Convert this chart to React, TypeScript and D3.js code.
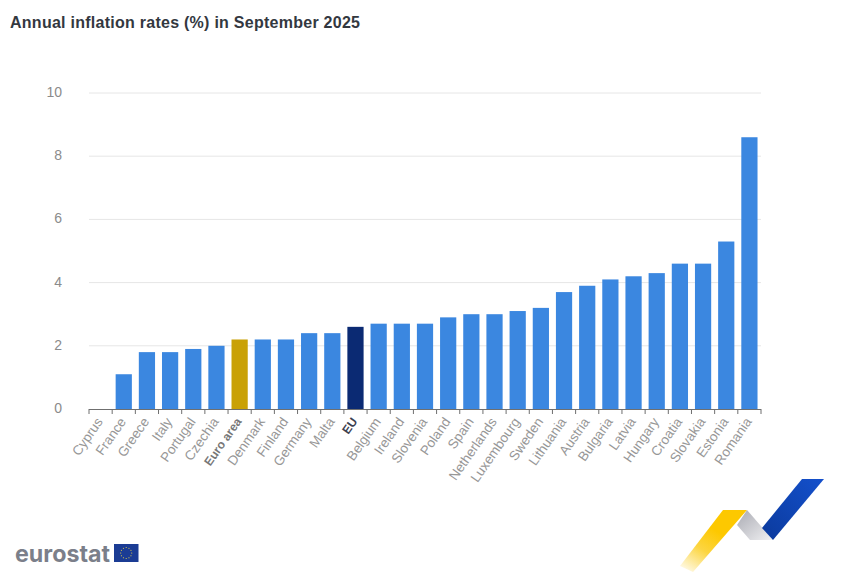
import React from "react";
import * as d3 from "d3";

const categories = ["Cyprus","France","Greece","Italy","Portugal","Czechia","Euro area","Denmark","Finland","Germany","Malta","EU","Belgium","Ireland","Slovenia","Poland","Spain","Netherlands","Luxembourg","Sweden","Lithuania","Austria","Bulgaria","Latvia","Hungary","Croatia","Slovakia","Estonia","Romania"];
const values = [0,1.1,1.8,1.8,1.9,2.0,2.2,2.2,2.2,2.4,2.4,2.6,2.7,2.7,2.7,2.9,3.0,3.0,3.1,3.2,3.7,3.9,4.1,4.2,4.3,4.6,4.6,5.3,8.6];
const yTicks = [0,2,4,6,8,10];
const highlight: Record<string,string> = { "Euro area": "#c9a106", "EU": "#0b2a73" };
const barColor = "#3b87e0";
const FONT = "'Liberation Sans', Arial, sans-serif";

export default function App() {
  const x = d3.scaleBand<string>().domain(categories).range([89, 761]).paddingInner(0.3).paddingOuter(0.15);
  const y = d3.scaleLinear().domain([0, 10]).range([409, 93]);
  const ticks = d3.range(categories.length + 1).map(i => 89 + (672 / categories.length) * i);
  const stars = d3.range(12).map(i => (i / 12) * 2 * Math.PI);
  return (
    <svg width={849} height={587} style={{ position: "fixed", left: 0, top: 0, background: "#fff" }} fontFamily={FONT}>
      <defs>
        <linearGradient id="yel" x1="0" y1="1" x2="0.7" y2="0">
          <stop offset="0" stopColor="#ffffff" />
          <stop offset="0.4" stopColor="#fcd540" />
          <stop offset="0.7" stopColor="#fdc800" />
          <stop offset="1" stopColor="#fdc800" />
        </linearGradient>
        <linearGradient id="gry" x1="0" y1="0" x2="1" y2="1">
          <stop offset="0" stopColor="#a9aab2" />
          <stop offset="1" stopColor="#f1f1f3" />
        </linearGradient>
        <linearGradient id="blu" x1="0" y1="1" x2="1" y2="0">
          <stop offset="0" stopColor="#0b3a9c" />
          <stop offset="1" stopColor="#1450cc" />
        </linearGradient>
      </defs>
      <text x={10} y={28} fontSize={16} fontWeight={700} fill="#33383f" textLength={350} lengthAdjust="spacing">Annual inflation rates (%) in September 2025</text>
      {yTicks.map(t => (
        <g key={t}>
          {t > 0 && <line x1={89} x2={761} y1={y(t)} y2={y(t)} stroke="#e6e6e6" />}
          <text x={62} y={y(t) + 4} fontSize={14} textAnchor="end" fill="#8b8b8b">{t}</text>
        </g>
      ))}
      {categories.map((c, i) => (
        <rect key={c} x={x(c)} y={y(values[i])} width={x.bandwidth()} height={y(0) - y(values[i])} fill={highlight[c] ?? barColor} />
      ))}
      <line x1={89} x2={761} y1={409.5} y2={409.5} stroke="#6f6f6f" />
      {ticks.map((t, i) => <line key={i} x1={t} x2={t} y1={409} y2={414} stroke="#6f6f6f" />)}
      {categories.map(c => {
        const px = (x(c) as number) + x.bandwidth() / 2 - 1;
        const bold = c in highlight;
        return (
          <text key={c} transform={`translate(${px},419) rotate(-55)`} textAnchor="end" dy="0.35em"
            fontSize={bold ? 12 : 13.5} fontWeight={bold ? 700 : 400} fill={c === "EU" ? "#3c4150" : bold ? "#777" : "#979797"}>{c}</text>
        );
      })}
      <text x={15} y={562} fontSize={23} fontWeight={700} fill="#7b7f8a" style={{ fontFamily: "Inter, 'Liberation Sans', sans-serif" }} textLength={95} lengthAdjust="spacingAndGlyphs">eurostat</text>
      <rect x={114} y={544} width={24.5} height={18} fill="#1b3c94" />
      {stars.map((a, i) => <circle key={i} cx={126.2 + 5.5 * Math.cos(a)} cy={553 + 5.5 * Math.sin(a)} r={0.6} fill="#e8d24a" />)}
      <polygon points="680,566 723,510 747,510 693,572" fill="url(#yel)" />
      <polygon points="737,525 747,510 773,540 750,540" fill="url(#gry)" />
      <polygon points="762,528 802,479 824,479 773,540" fill="url(#blu)" />
    </svg>
  );
}
